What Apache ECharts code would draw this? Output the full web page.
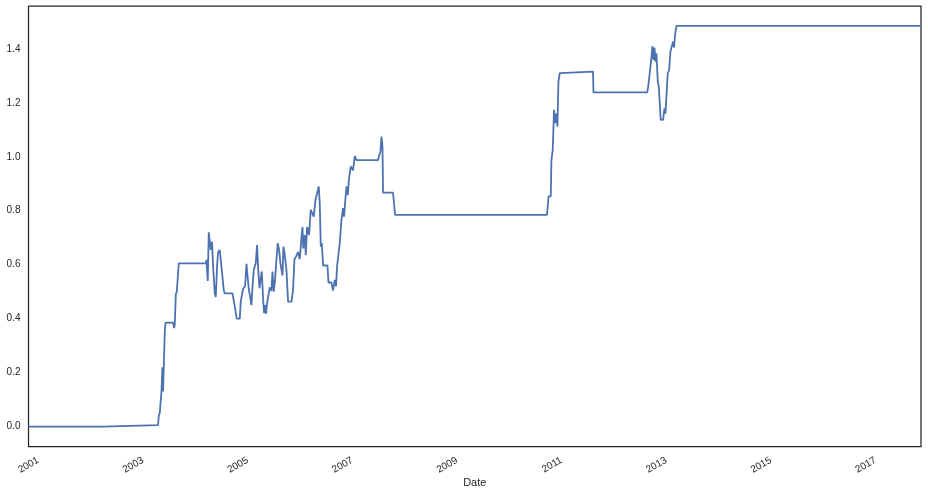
<!DOCTYPE html>
<html>
<head>
<meta charset="utf-8">
<script src="https://cdn.jsdelivr.net/npm/echarts@6/dist/echarts.min.js"></script>
<style>
html,body{margin:0;padding:0;background:#fff;}
#chart{width:928px;height:495px;}
</style>
</head>
<body>
<div id="chart"></div>
<script>
// x values: decimal years (date axis)
const years = [
2000.813,2002.227,2002.238,2003.289,2003.303,2003.322,2003.354,2003.373,2003.385,2003.398,
2003.417,2003.431,2003.576,2003.595,2003.609,2003.628,2003.647,2003.685,2004.201,2004.214,
2004.239,2004.258,2004.277,2004.296,2004.321,2004.340,2004.373,2004.392,2004.417,2004.436,
2004.468,2004.488,2004.512,2004.545,2004.564,2004.711,2004.742,2004.774,2004.793,2004.851,
2004.870,2004.895,2004.914,2004.952,2004.979,2004.998,2005.023,2005.074,2005.093,2005.118,
2005.156,2005.181,2005.200,2005.227,2005.271,2005.296,2005.315,2005.334,2005.353,2005.372,
2005.424,2005.456,2005.476,2005.500,2005.525,2005.552,2005.577,2005.602,2005.628,2005.667,
2005.686,2005.711,2005.743,2005.774,2005.839,2005.869,2005.896,2005.921,2005.965,2005.997,
2006.030,2006.049,2006.064,2006.093,2006.112,2006.137,2006.175,2006.207,2006.240,2006.265,
2006.297,2006.328,2006.360,2006.379,2006.399,2006.418,2006.443,2006.527,2006.546,2006.603,
2006.634,2006.666,2006.691,2006.710,2006.733,2006.762,2006.794,2006.825,2006.844,2006.863,
2006.890,2006.915,2006.939,2006.972,2006.997,2007.016,2007.048,2007.081,2007.494,2007.513,
2007.539,2007.559,2007.578,2007.589,2007.780,2007.818,2010.723,2010.752,2010.794,2010.807,
2010.832,2010.857,2010.884,2010.903,2010.922,2010.941,2010.966,2010.991,2011.602,2011.610,
2012.638,2012.661,2012.686,2012.714,2012.737,2012.756,2012.776,2012.795,2012.814,2012.839,
2012.858,2012.877,2012.896,2012.940,2012.967,2012.986,2013.005,2013.030,2013.055,2013.082,
2013.112,2013.131,2013.150,2013.170,2013.196,2017.870
];
const values = [
0,0,0.005,0.005,0.04,0.05,0.13,0.22,0.13,0.22,
0.35,0.385,0.385,0.365,0.38,0.49,0.50,0.605,0.605,0.618,
0.54,0.72,0.72,0.655,0.685,0.595,0.494,0.48,0.595,0.645,
0.655,0.66,0.57,0.505,0.494,0.494,0.46,0.455,0.40,0.40,
0.465,0.49,0.51,0.52,0.603,0.56,0.51,0.45,0.514,0.58,
0.605,0.673,0.593,0.513,0.575,0.477,0.42,0.45,0.418,0.457,
0.516,0.503,0.575,0.50,0.544,0.62,0.68,0.655,0.605,0.56,
0.667,0.636,0.58,0.463,0.463,0.505,0.62,0.628,0.647,0.62,
0.70,0.74,0.66,0.71,0.635,0.74,0.71,0.803,0.81,0.778,
0.84,0.835,0.89,0.83,0.667,0.68,0.597,0.597,0.534,0.534,
0.504,0.544,0.52,0.593,0.60,0.68,0.766,0.81,0.778,0.828,
0.89,0.858,0.92,0.964,0.97,0.95,1.003,0.988,0.988,1.003,
1.02,1.075,1.04,0.867,0.867,0.785,0.785,0.853,0.853,0.988,
1.026,1.174,1.125,1.16,1.112,1.279,1.31,1.316,1.316,1.239,
1.239,1.267,1.26,1.359,1.41,1.359,1.405,1.353,1.384,1.28,
1.26,1.2,1.137,1.137,1.18,1.16,1.225,1.31,1.32,1.39,
1.395,1.427,1.405,1.452,1.485,1.485
];
const xTickLabels = [2001,2003,2005,2007,2009,2011,2013,2015,2017];
const yTickLabels = [0,0.2,0.4,0.6,0.8,1.0,1.2,1.4];

const chart = echarts.init(document.getElementById('chart'), null, {renderer:'canvas'});
const textColor = '#262626';
chart.setOption({
  animation:false,
  backgroundColor:'#ffffff',
  grid:{left:28.5,right:7,top:6,bottom:48.5,containLabel:false,outerBoundsMode:'none',
    show:true,borderColor:'#262626',borderWidth:1.25,backgroundColor:'transparent'},
  xAxis:{
    type:'value', min:2000.813, max:2017.870,
    name:'Date', nameLocation:'middle', nameGap:31, nameMoveOverlap:false,
    nameTextStyle:{color:textColor,fontFamily:'Liberation Sans',fontSize:11},
    axisLine:{show:false}, axisTick:{show:false}, splitLine:{show:false},
    axisLabel:{customValues:xTickLabels, rotate:30, margin:13, color:textColor,
      fontFamily:'Liberation Sans', fontSize:10, formatter:v=>String(Math.round(v))}
  },
  yAxis:{
    type:'value', min:-0.074, max:1.559,
    axisLine:{show:false}, axisTick:{show:false}, splitLine:{show:false},
    axisLabel:{customValues:yTickLabels, margin:8, color:textColor,
      fontFamily:'Liberation Sans', fontSize:10, formatter:v=>v.toFixed(1)}
  },
  series:[{
    type:'line', showSymbol:false, symbol:'none',
    data:years.map((y,i)=>[y,values[i]]),
    lineStyle:{color:'#4c72b0',width:1.8}
  }]
});
</script>
</body>
</html>
